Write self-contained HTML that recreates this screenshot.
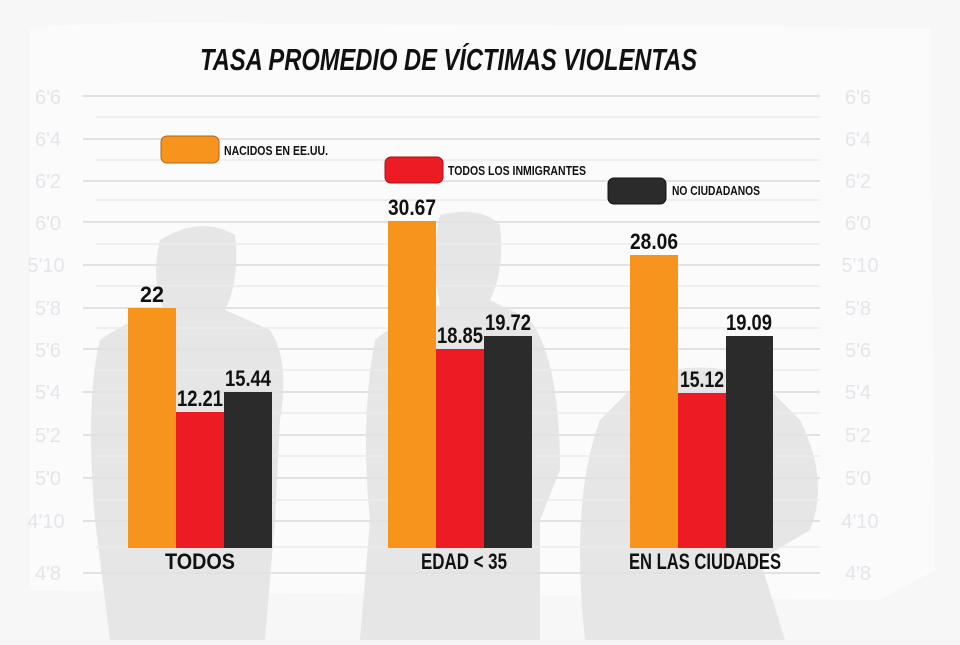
<!DOCTYPE html><html><head><meta charset="utf-8"><style>
body{margin:0;width:960px;height:640px;overflow:hidden;background:#f6f6f7;font-family:"Liberation Sans",sans-serif}
</style></head><body>
<svg width="960" height="640" xmlns="http://www.w3.org/2000/svg">
<rect width="960" height="640" fill="#f7f7f8"/>
<path d="M30 30 Q60 20 300 24 L930 28 L935 570 L880 600 L30 590 Z" fill="#fbfbfb"/>
<g fill="#e6e6e7">
<path d="M160 240 Q200 215 235 235 Q240 280 225 310 L270 330 Q290 360 280 420 L275 520 L265 640 L110 640 L95 520 Q85 400 100 340 Q130 318 165 312 Q150 280 160 240Z"/>
<path d="M440 215 Q480 205 500 225 Q505 270 490 300 L530 320 Q560 360 560 470 L540 520 L540 640 L360 640 L370 520 Q360 420 375 340 Q405 315 440 305 Q430 260 440 215Z"/>
<path d="M640 380 Q700 355 760 380 L800 420 Q830 480 810 530 L760 560 L785 640 L585 640 Q570 500 600 420 Z"/>
</g>
<g stroke="#e3e1e8" stroke-width="2">
<line x1="83" y1="96" x2="820" y2="96"/><line x1="83" y1="139" x2="820" y2="139"/><line x1="83" y1="181" x2="820" y2="181"/><line x1="83" y1="222" x2="820" y2="222"/><line x1="83" y1="265" x2="820" y2="265"/><line x1="83" y1="308" x2="820" y2="308"/><line x1="83" y1="349" x2="820" y2="349"/><line x1="83" y1="392" x2="820" y2="392"/><line x1="83" y1="435" x2="820" y2="435"/><line x1="83" y1="478" x2="820" y2="478"/><line x1="83" y1="521" x2="820" y2="521"/><line x1="83" y1="573" x2="820" y2="573"/>
</g>
<g stroke="#eceaef" stroke-width="1.5">
<line x1="96" y1="117" x2="820" y2="117"/><line x1="96" y1="160" x2="820" y2="160"/><line x1="96" y1="200" x2="820" y2="200"/><line x1="96" y1="244" x2="820" y2="244"/><line x1="96" y1="286" x2="820" y2="286"/><line x1="96" y1="328" x2="820" y2="328"/><line x1="96" y1="370" x2="820" y2="370"/><line x1="96" y1="413" x2="820" y2="413"/><line x1="96" y1="456" x2="820" y2="456"/><line x1="96" y1="500" x2="820" y2="500"/><line x1="96" y1="547" x2="820" y2="547"/>
</g>
<g fill="#e6e4ea" font-size="20" text-anchor="middle">
<text x="48" y="104">6'6</text><text x="48" y="146">6'4</text><text x="48" y="188">6'2</text><text x="48" y="230">6'0</text><text x="46" y="272">5'10</text><text x="48" y="315">5'8</text><text x="48" y="357">5'6</text><text x="48" y="399">5'4</text><text x="48" y="442">5'2</text><text x="48" y="485">5'0</text><text x="46" y="528">4'10</text><text x="48" y="580">4'8</text>
<text x="858" y="104">6'6</text><text x="858" y="146">6'4</text><text x="858" y="188">6'2</text><text x="858" y="230">6'0</text><text x="860" y="272">5'10</text><text x="858" y="315">5'8</text><text x="858" y="357">5'6</text><text x="858" y="399">5'4</text><text x="858" y="442">5'2</text><text x="858" y="485">5'0</text><text x="860" y="528">4'10</text><text x="858" y="580">4'8</text>
</g>
<text x="200" y="70" font-size="31" font-weight="bold" font-style="italic" fill="#111" textLength="497" lengthAdjust="spacingAndGlyphs">TASA PROMEDIO DE VÍCTIMAS VIOLENTAS</text>
<rect x="161" y="136" width="58" height="27" rx="6" fill="#f7941d" stroke="#b0651a"/>
<text x="224" y="155" font-size="13" font-weight="bold" fill="#111" textLength="104" lengthAdjust="spacingAndGlyphs">NACIDOS EN EE.UU.</text>
<rect x="385" y="157" width="58" height="26" rx="6" fill="#ed1c24" stroke="#a01318"/>
<text x="448" y="175" font-size="13" font-weight="bold" fill="#111" textLength="138" lengthAdjust="spacingAndGlyphs">TODOS LOS INMIGRANTES</text>
<rect x="608" y="178" width="58" height="26" rx="6" fill="#2b2b2b" stroke="#111"/>
<text x="672" y="195" font-size="13" font-weight="bold" fill="#111" textLength="88" lengthAdjust="spacingAndGlyphs">NO CIUDADANOS</text>
<rect x="128" y="308" width="48" height="240" fill="#f7941d"/><rect x="176" y="412" width="48" height="136" fill="#ed1c24"/><rect x="224" y="392" width="48" height="156" fill="#2b2b2b"/>
<rect x="388" y="221" width="48" height="327" fill="#f7941d"/><rect x="436" y="349" width="48" height="199" fill="#ed1c24"/><rect x="484" y="336" width="48" height="212" fill="#2b2b2b"/>
<rect x="630" y="255" width="48" height="293" fill="#f7941d"/><rect x="678" y="393" width="48" height="155" fill="#ed1c24"/><rect x="726" y="336" width="47" height="212" fill="#2b2b2b"/>
<g font-size="22" font-weight="bold" fill="#111" text-anchor="middle" lengthAdjust="spacingAndGlyphs">
<text x="152" y="302" textLength="24" lengthAdjust="spacingAndGlyphs">22</text><text x="200" y="406" textLength="46" lengthAdjust="spacingAndGlyphs">12.21</text><text x="248" y="386" textLength="46" lengthAdjust="spacingAndGlyphs">15.44</text>
<text x="412" y="215" textLength="48" lengthAdjust="spacingAndGlyphs">30.67</text><text x="460" y="343" textLength="46" lengthAdjust="spacingAndGlyphs">18.85</text><text x="508" y="330" textLength="46" lengthAdjust="spacingAndGlyphs">19.72</text>
<text x="654" y="249" textLength="48" lengthAdjust="spacingAndGlyphs">28.06</text><text x="702" y="387" textLength="44" lengthAdjust="spacingAndGlyphs">15.12</text><text x="749" y="330" textLength="46" lengthAdjust="spacingAndGlyphs">19.09</text>
<text x="200" y="569" textLength="70" lengthAdjust="spacingAndGlyphs">TODOS</text>
<text x="464" y="569" textLength="86" lengthAdjust="spacingAndGlyphs">EDAD &lt; 35</text>
<text x="705" y="569" textLength="152" lengthAdjust="spacingAndGlyphs">EN LAS CIUDADES</text>
</g>
</svg></body></html>
